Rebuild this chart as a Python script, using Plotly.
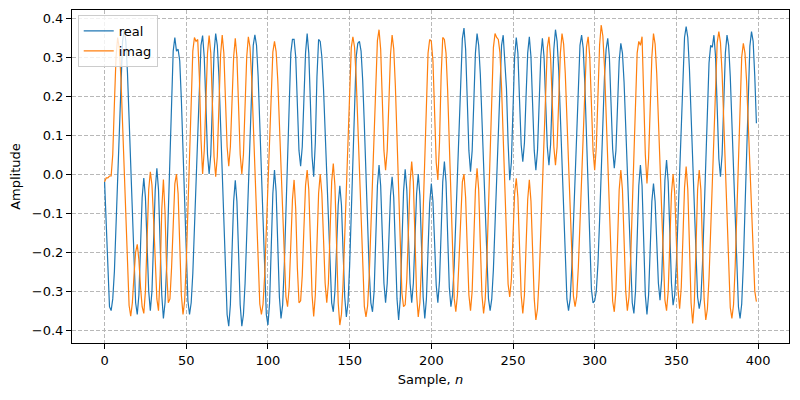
import plotly.graph_objects as go

samples = list(range(400))

real_vals = [
    -0.02, -0.12, -0.25, -0.34, -0.35, -0.32, -0.25, -0.13, 0.01, 0.15,
    0.265, 0.34, 0.37, 0.34, 0.26, 0.145, 0.005, -0.135, -0.25, -0.33,
    -0.36, -0.31, -0.185, -0.06, -0.01, -0.06, -0.18, -0.30, -0.35, -0.30,
    -0.17, -0.04, 0.015, -0.04, -0.18, -0.31, -0.37, -0.33, -0.235, -0.09,
    0.07, 0.215, 0.315, 0.35, 0.315, 0.32, 0.29, 0.19, 0.055, -0.095,
    -0.23, -0.325, -0.36, -0.33, -0.255, -0.14, 0.0, 0.135, 0.25, 0.33,
    0.355, 0.30, 0.18, 0.05, 0.0, 0.05, 0.18, 0.31, 0.36, 0.33,
    0.25, 0.13, -0.015, -0.16, -0.28, -0.36, -0.39, -0.335, -0.20, -0.07,
    -0.016, -0.07, -0.20, -0.335, -0.39, -0.36, -0.28, -0.16, -0.015, 0.13,
    0.25, 0.33, 0.357, 0.33, 0.25, 0.13, -0.015, -0.16, -0.28, -0.36,
    -0.387, -0.33, -0.19, -0.05, 0.01, -0.045, -0.18, -0.315, -0.37, -0.335,
    -0.235, -0.09, 0.07, 0.21, 0.31, 0.345, 0.345, 0.30, 0.18, 0.06,
    0.02, 0.07, 0.19, 0.31, 0.36, 0.31, 0.18, 0.045, -0.007, 0.08,
    0.25, 0.345, 0.34, 0.30, 0.22, 0.11, -0.01, -0.14, -0.25, -0.33,
    -0.353, -0.30, -0.19, -0.08, -0.03, -0.08, -0.20, -0.315, -0.366, -0.33,
    -0.235, -0.09, 0.06, 0.20, 0.30, 0.335, 0.34, 0.315, 0.24, 0.126,
    -0.006, -0.14, -0.25, -0.33, -0.353, -0.30, -0.165, -0.03, 0.023, -0.03,
    -0.155, -0.28, -0.33, -0.28, -0.17, -0.055, -0.007, -0.06, -0.19, -0.32,
    -0.374, -0.32, -0.18, -0.045, 0.012, -0.04, -0.16, -0.28, -0.33, -0.28,
    -0.165, -0.05, 0.0, -0.055, -0.185, -0.315, -0.37, -0.32, -0.195, -0.075,
    -0.024, -0.07, -0.175, -0.285, -0.33, -0.275, -0.15, -0.02, 0.032, -0.02,
    -0.155, -0.29, -0.34, -0.31, -0.235, -0.12, 0.017, 0.153, 0.27, 0.347,
    0.374, 0.32, 0.19, 0.06, 0.006, 0.06, 0.183, 0.31, 0.36, 0.33,
    0.255, 0.14, 0.005, -0.13, -0.245, -0.32, -0.35, -0.32, -0.245, -0.13,
    0.003, 0.135, 0.25, 0.33, 0.356, 0.28, 0.22, 0.08, -0.016, 0.03,
    0.16, 0.30, 0.35, 0.31, 0.19, 0.075, 0.032, 0.08, 0.20, 0.31,
    0.352, 0.30, 0.18, 0.06, 0.01, 0.06, 0.18, 0.30, 0.348, 0.30,
    0.185, 0.07, 0.023, 0.075, 0.20, 0.32, 0.37, 0.34, 0.265, 0.148,
    0.01, -0.128, -0.245, -0.32, -0.35, -0.32, -0.24, -0.13, 0.003, 0.14,
    0.25, 0.33, 0.356, 0.322, 0.227, 0.089, -0.063, -0.2, -0.295, -0.33,
    -0.325, -0.30, -0.23, -0.12, 0.01, 0.14, 0.25, 0.32, 0.348, 0.30,
    0.18, 0.065, 0.015, 0.06, 0.175, 0.29, 0.335, 0.31, 0.234, 0.121,
    -0.011, -0.14, -0.255, -0.33, -0.357, -0.30, -0.167, -0.03, 0.023, -0.03,
    -0.17, -0.31, -0.36, -0.31, -0.19, -0.07, -0.024, -0.07, -0.175, -0.28,
    -0.323, -0.27, -0.145, -0.015, 0.036, -0.02, -0.15, -0.28, -0.336, -0.31,
    -0.23, -0.115, 0.02, 0.157, 0.274, 0.35, 0.378, 0.35, 0.27, 0.155,
    0.017, -0.12, -0.24, -0.315, -0.345, -0.32, -0.23, -0.1, 0.04, 0.18,
    0.285, 0.33, 0.325, 0.356, 0.30, 0.17, 0.04, -0.007, 0.05, 0.18,
    0.31, 0.356, 0.33, 0.25, 0.132, -0.007, -0.145, -0.263, -0.34, -0.37,
    -0.333, -0.232, -0.084, 0.079, 0.227, 0.328, 0.365, 0.34, 0.25, 0.13,
]

imag_vals = [
    -0.02, -0.01, -0.01, -0.005, -0.005, 0.05, 0.18, 0.30, 0.35, 0.323,
    0.246, 0.13, -0.007, -0.143, -0.26, -0.337, -0.364, -0.33, -0.26, -0.2,
    -0.18, -0.22, -0.29, -0.34, -0.357, -0.3, -0.17, -0.04, 0.006, -0.028,
    -0.117, -0.23, -0.32, -0.35, -0.26, -0.09, -0.014, -0.1, -0.25, -0.33,
    -0.32, -0.24, -0.12, -0.025, 0.0, -0.05, -0.18, -0.31, -0.36, -0.325,
    -0.227, -0.084, 0.074, 0.216, 0.315, 0.35, 0.34, 0.345, 0.25, 0.09,
    0.0, 0.06, 0.19, 0.31, 0.355, 0.31, 0.18, 0.045, -0.007, 0.045,
    0.175, 0.305, 0.356, 0.31, 0.19, 0.07, 0.02, 0.07, 0.185, 0.30,
    0.348, 0.30, 0.175, 0.05, 0.0, 0.05, 0.175, 0.30, 0.352, 0.325,
    0.248, 0.132, -0.004, -0.14, -0.256, -0.333, -0.36, -0.333, -0.258, -0.144,
    -0.01, 0.124, 0.238, 0.313, 0.34, 0.314, 0.241, 0.13, 0.0, -0.13,
    -0.24, -0.314, -0.34, -0.29, -0.18, -0.065, -0.015, -0.09, -0.24, -0.33,
    -0.325, -0.26, -0.14, -0.03, 0.01, -0.04, -0.17, -0.31, -0.365, -0.31,
    -0.18, -0.05, 0.0, -0.05, -0.165, -0.28, -0.33, -0.28, -0.15, -0.02,
    0.027, -0.03, -0.18, -0.33, -0.387, -0.359, -0.279, -0.159, -0.018, 0.124,
    0.244, 0.324, 0.352, 0.325, 0.247, 0.13, -0.007, -0.144, -0.261, -0.339,
    -0.366, -0.338, -0.259, -0.139, 0.002, 0.143, 0.262, 0.342, 0.37, 0.32,
    0.19, 0.06, 0.01, 0.06, 0.18, 0.305, 0.356, 0.321, 0.225, 0.085,
    -0.069, -0.209, -0.305, -0.34, -0.335, -0.27, -0.15, -0.02, 0.032, -0.02,
    -0.165, -0.31, -0.366, -0.33, -0.232, -0.089, 0.068, 0.211, 0.31, 0.345,
    0.34, 0.29, 0.17, 0.03, -0.015, 0.08, 0.25, 0.35, 0.345, 0.31,
    0.214, 0.074, -0.081, -0.222, -0.318, -0.353, -0.31, -0.215, -0.1, -0.02,
    0.0, -0.06, -0.19, -0.31, -0.35, -0.30, -0.17, -0.04, 0.015, -0.04,
    -0.18, -0.31, -0.357, -0.321, -0.222, -0.078, 0.081, 0.225, 0.324, 0.36,
    0.35, 0.345, 0.312, 0.221, 0.088, -0.058, -0.191, -0.282, -0.315, -0.27,
    -0.16, -0.05, -0.011, -0.06, -0.185, -0.31, -0.357, -0.31, -0.185, -0.065,
    -0.015, -0.07, -0.195, -0.32, -0.374, -0.346, -0.268, -0.15, -0.011, 0.128,
    0.246, 0.324, 0.352, 0.30, 0.19, 0.07, 0.023, 0.07, 0.19, 0.31,
    0.36, 0.333, 0.258, 0.144, 0.01, -0.124, -0.238, -0.313, -0.34, -0.314,
    -0.239, -0.126, 0.006, 0.138, 0.251, 0.326, 0.352, 0.30, 0.18, 0.06,
    0.01, 0.07, 0.2, 0.33, 0.382, 0.354, 0.275, 0.155, 0.015, -0.126,
    -0.246, -0.326, -0.353, -0.30, -0.175, -0.04, 0.01, -0.04, -0.17, -0.30,
    -0.35, -0.315, -0.22, -0.081, 0.072, 0.21, 0.31, 0.34, 0.33, 0.352,
    0.21, 0.05, -0.024, 0.04, 0.17, 0.30, 0.36, 0.333, 0.256, 0.141,
    0.005, -0.13, -0.246, -0.323, -0.35, -0.30, -0.175, -0.05, 0.0, -0.05,
    -0.17, -0.295, -0.345, -0.29, -0.165, -0.035, 0.019, -0.04, -0.18, -0.33,
    -0.383, -0.33, -0.19, -0.04, 0.01, -0.04, -0.185, -0.32, -0.374, -0.346,
    -0.266, -0.146, -0.005, 0.137, 0.257, 0.337, 0.365, 0.337, 0.258, 0.138,
    -0.003, -0.143, -0.262, -0.342, -0.37, -0.335, -0.237, -0.096, 0.061, 0.202,
    0.3, 0.335, 0.31, 0.237, 0.131, 0.004, -0.122, -0.23, -0.3, -0.327,
]

x_ticks = [0, 50, 100, 150, 200, 250, 300, 350, 400]
y_ticks = [-0.4, -0.3, -0.2, -0.1, 0.0, 0.1, 0.2, 0.3, 0.4]

FONT = "DejaVu Sans"

fig = go.Figure()
fig.add_trace(go.Scatter(x=samples, y=real_vals, mode="lines", name="real",
                         line=dict(color="#1f77b4", width=1.2)))
fig.add_trace(go.Scatter(x=samples, y=imag_vals, mode="lines", name="imag",
                         line=dict(color="#ff7f0e", width=1.2)))

axis_common = dict(
    showline=True, linecolor="black", linewidth=1, mirror=True,
    ticks="outside", ticklen=5, tickcolor="black", tickwidth=1,
    showgrid=True, gridcolor="#b8b8b8", griddash="4px,2px", gridwidth=0.8,
    zeroline=False, automargin=False,
    tickfont=dict(family=FONT, size=13, color="black"),
)

# The page body adds an 8px offset, so the figure is sized 792x392.
fig.update_layout(
    width=792, height=392,
    margin=dict(l=64, r=11, t=2, b=57),
    paper_bgcolor="white", plot_bgcolor="white",
    font=dict(family=FONT, size=13, color="black"),
    showlegend=True,
    legend=dict(x=0.008, y=0.985, xanchor="left", yanchor="top",
                bgcolor="rgba(255,255,255,0.8)", bordercolor="#cccccc",
                borderwidth=1, font=dict(family=FONT, size=13),
                tracegroupgap=0, itemwidth=30),
    xaxis=dict(range=[-19.95, 418.95], tickvals=x_ticks,
               title=dict(text="Sample, <i>n</i>", font=dict(family=FONT, size=13), standoff=8),
               **axis_common),
    yaxis=dict(range=[-0.433, 0.4205], tickvals=y_ticks, tickformat=".1f",
               title=dict(text="Amplitude", font=dict(family=FONT, size=13), standoff=10),
               **axis_common),
)

fig.write_html("out.html")
